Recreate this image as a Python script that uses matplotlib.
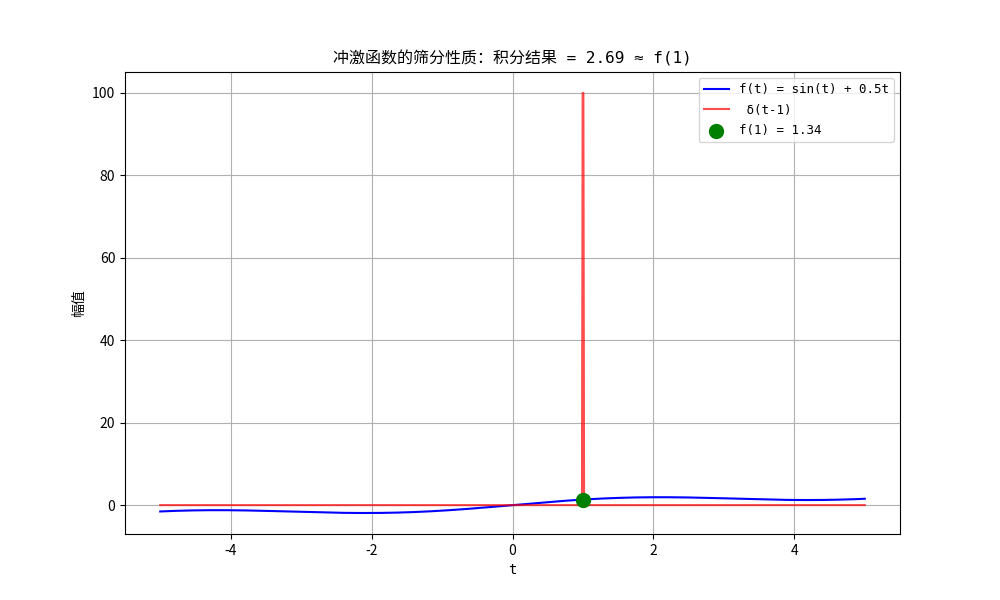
import numpy as np
import matplotlib
matplotlib.use("Agg")
import matplotlib.pyplot as plt

plt.rcParams['font.family'] = ['Noto Sans CJK SC', 'DejaVu Sans']
plt.rcParams['axes.unicode_minus'] = False

# Data
t = np.linspace(-5, 5, 1000)
dt = t[1] - t[0]
t0 = 1.0
f_values = np.sin(t) + 0.5 * t          # f(t) = sin(t) + 0.5t as labelled
delta_values = np.where(np.abs(t - t0) < dt, 1.0 / dt, 0.0)
integral_result = 2.69
f_at_t0 = 1.34

title_text = "冲激函数的筛分性质：积分结果 = 2.69 ≈ f(1)"
x_label = "t"
y_label = "幅值"
label_f = "f(t) = sin(t) + 0.5t"
label_delta = " δ(t-1)"
label_point = "f(1) = 1.34"

mono = ['DejaVu Sans Mono', 'Noto Sans CJK SC']

fig, ax = plt.subplots(figsize=(10, 6), dpi=100)
ax.plot(t, f_values, color='blue', linewidth=1.5, label=label_f)
ax.plot(t, delta_values, color='red', alpha=0.7, linewidth=1.5, label=label_delta)
ax.scatter([t0], [f_at_t0], color='green', s=100, zorder=5, label=label_point)
ax.set_title(title_text, family=mono, fontsize=11.5)
ax.set_xlabel(x_label, family=mono)
ax.set_ylabel(y_label)
ax.grid(True)
ax.legend(loc='upper right', prop={'family': mono, 'size': 9}, labelspacing=0.6)
fig.savefig("out.png", dpi=100)
